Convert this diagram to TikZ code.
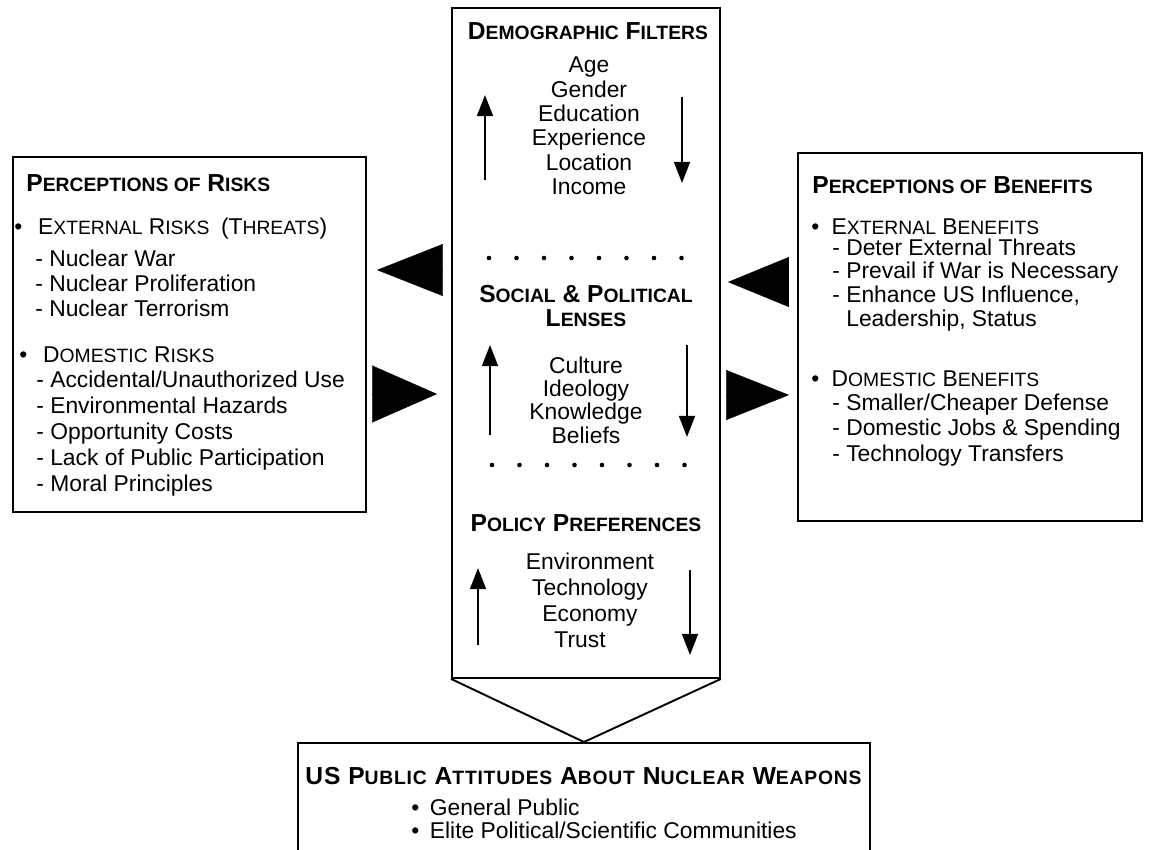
\documentclass[tikz,border=0pt]{standalone}
\usepackage{fontspec}
\setmainfont{Liberation Sans}
\usepackage{tikz}
\usetikzlibrary{arrows.meta,positioning}

% 小型大写字母（手工）
\newcommand{\smc}[1]{{\fontsize{11}{12}\selectfont #1}}

\tikzset{
    box/.style={
        draw,
        line width=1.1pt,
        inner sep=0pt
    },
    head/.style={
        inner sep=0pt,
        font=\bfseries\fontsize{14}{14.2}\selectfont
    },
    item/.style={
        inner sep=0pt,
        anchor=west,
        align=left,
        font=\fontsize{13}{14.4}\selectfont
    },
    col/.style={
        inner sep=0pt,
        align=center,
        font=\fontsize{13}{13.9}\selectfont
    },
    % 竖直小箭头
    flow/.style={
        line width=1.3pt,
        -{Triangle[length=12pt, width=9pt]}
    },
    % 黑色大楔形箭头
    wedge/.style 2 args={
        line width=0.2pt,
        -{Triangle[length=#1, width=#2]}
    }
}

\begin{document}
\begin{tikzpicture}[x=0.02cm, y=-0.02cm]
	\useasboundingbox (0,0) rectangle (1150,849);
	
	% 方框
	\node[box, minimum width=7.06cm, minimum height=7.1cm] (risks) at (189.5,334.5) {};
	\node[box, minimum width=5.36cm, minimum height=13.4cm] (centre) at (586,343) {};
	\node[box, minimum width=6.88cm, minimum height=7.36cm] (benefits) at (970,337) {};
	\node[box, minimum width=11.44cm, minimum height=2.74cm] (attitudes) at (584,811.5) {};
	
	\path
	(584,742) coordinate (tip)
	(0,270) coordinate (w1)
	(0,394) coordinate (w2)
	(0,282) coordinate (w3)
	(0,395) coordinate (w4);
	
	% 下方的尖角
	\draw[line width=1.1pt] (centre.south west) -- (tip) -- (centre.south east);
	
	% 左边：风险
	\node[head, anchor=west] (risks-h) at (26,183) {P\smc{ERCEPTIONS OF} R\smc{ISKS}};
	\node[item] (ext-r) at (14,229) {\textbullet\hspace{9pt}E\smc{XTERNAL} R\smc{ISKS}\hspace{3pt} (T\smc{HREATS})};
	\node[item, font=\fontsize{13}{14.2}\selectfont] (ext-r-list) at (35,283) {- Nuclear War\\- Nuclear Proliferation\\- Nuclear Terrorism};
	\node[item] (dom-r) at (19,355) {\textbullet\hspace{9pt}D\smc{OMESTIC} R\smc{ISKS}};
	\node[item, font=\fontsize{13}{14.8}\selectfont] (dom-r-list) at (36,434) {- Accidental/Unauthorized Use\\- Environmental Hazards\\- Opportunity Costs\\- Lack of Public Participation\\- Moral Principles};
	
	% 中间
	\node[head] (demo-h) at (588,31) {D\smc{EMOGRAPHIC} F\smc{ILTERS}};
	\node[col] (demo) at (589,126) {Age\\Gender\\Education\\Experience\\Location\\Income};
	\node[head, align=center] (lens-h) at (586,306) {S\smc{OCIAL} \& P\smc{OLITICAL}\\L\smc{ENSES}};
	\node[col, font=\fontsize{13}{13.3}\selectfont] (lens) at (586,400) {Culture\\Ideology\\Knowledge\\Beliefs};
	\node[head] (pol-h) at (586,523) {P\smc{OLICY} P\smc{REFERENCES}};
	\node[col, font=\fontsize{13}{14.8}\selectfont] (pol) at (590,600) {Environment\\Technology\\Economy\\Trust\hspace*{0.4cm}};
	
	% 点线
	\foreach \i in {0,...,7} {
		\fill (489+27.5*\i,258) circle (1.3pt);
		\fill (492+27.5*\i,465) circle (1.3pt);
	}
	
	% 上下箭头
	\draw[flow] (485,180) -- (485,95);
	\draw[flow] (682,97) -- (682,183);
	\draw[flow] (490,435) -- (490,345);
	\draw[flow] (687,345) -- (687,437);
	\draw[flow] (478,645) -- (478,568);
	\draw[flow] (690,570) -- (690,655);
	
	% 右边：收益
	\node[head, anchor=west] (ben-h) at (812,185) {P\smc{ERCEPTIONS OF} B\smc{ENEFITS}};
	\node[item] (ext-b) at (811,227) {\textbullet\hspace{7pt}E\smc{XTERNAL} B\smc{ENEFITS}};
	\node[item, font=\fontsize{13}{13.6}\selectfont] (ext-b-list) at (832,285) {- Deter External Threats\\- Prevail if War is Necessary\\- Enhance US Influence,\\\hphantom{- }Leadership, Status};
	\node[item] (dom-b) at (811,379) {\textbullet\hspace{7pt}D\smc{OMESTIC} B\smc{ENEFITS}};
	\node[item] (dom-b-list) at (832,430) {- Smaller/Cheaper Defense\\- Domestic Jobs \& Spending\\- Technology Transfers};
	
	% 楔形箭头
	\draw[wedge={1.32cm}{1.04cm}, shorten <=0.2cm, shorten >=0.2cm] (centre.west |- w1) -- (risks.east |- w1);
	\draw[wedge={1.3cm}{1.14cm}, shorten <=0.14cm, shorten >=0.28cm] (risks.east |- w2) -- (centre.west |- w2);
	\draw[wedge={1.22cm}{1.0cm}, shorten <=0.2cm, shorten >=0.14cm] (benefits.west |- w3) -- (centre.east |- w3);
	\draw[wedge={1.26cm}{1.0cm}, shorten <=0.14cm, shorten >=0.16cm] (centre.east |- w4) -- (benefits.west |- w4);
	
	% 底部
	\node[head, anchor=west, font=\bfseries\fontsize{14}{14.2}\selectfont\addfontfeature{LetterSpace=4}] (att-h) at (305,776) {US P\smc{UBLIC} A\smc{TTITUDES} A\smc{BOUT} N\smc{UCLEAR} W\smc{EAPONS}};
	\node[item, font=\fontsize{13}{13}\selectfont] (att) at (411,819) {\textbullet\hspace{6pt}General Public\\\textbullet\hspace{6pt}Elite Political/Scientific Communities};
\end{tikzpicture}
\end{document}
